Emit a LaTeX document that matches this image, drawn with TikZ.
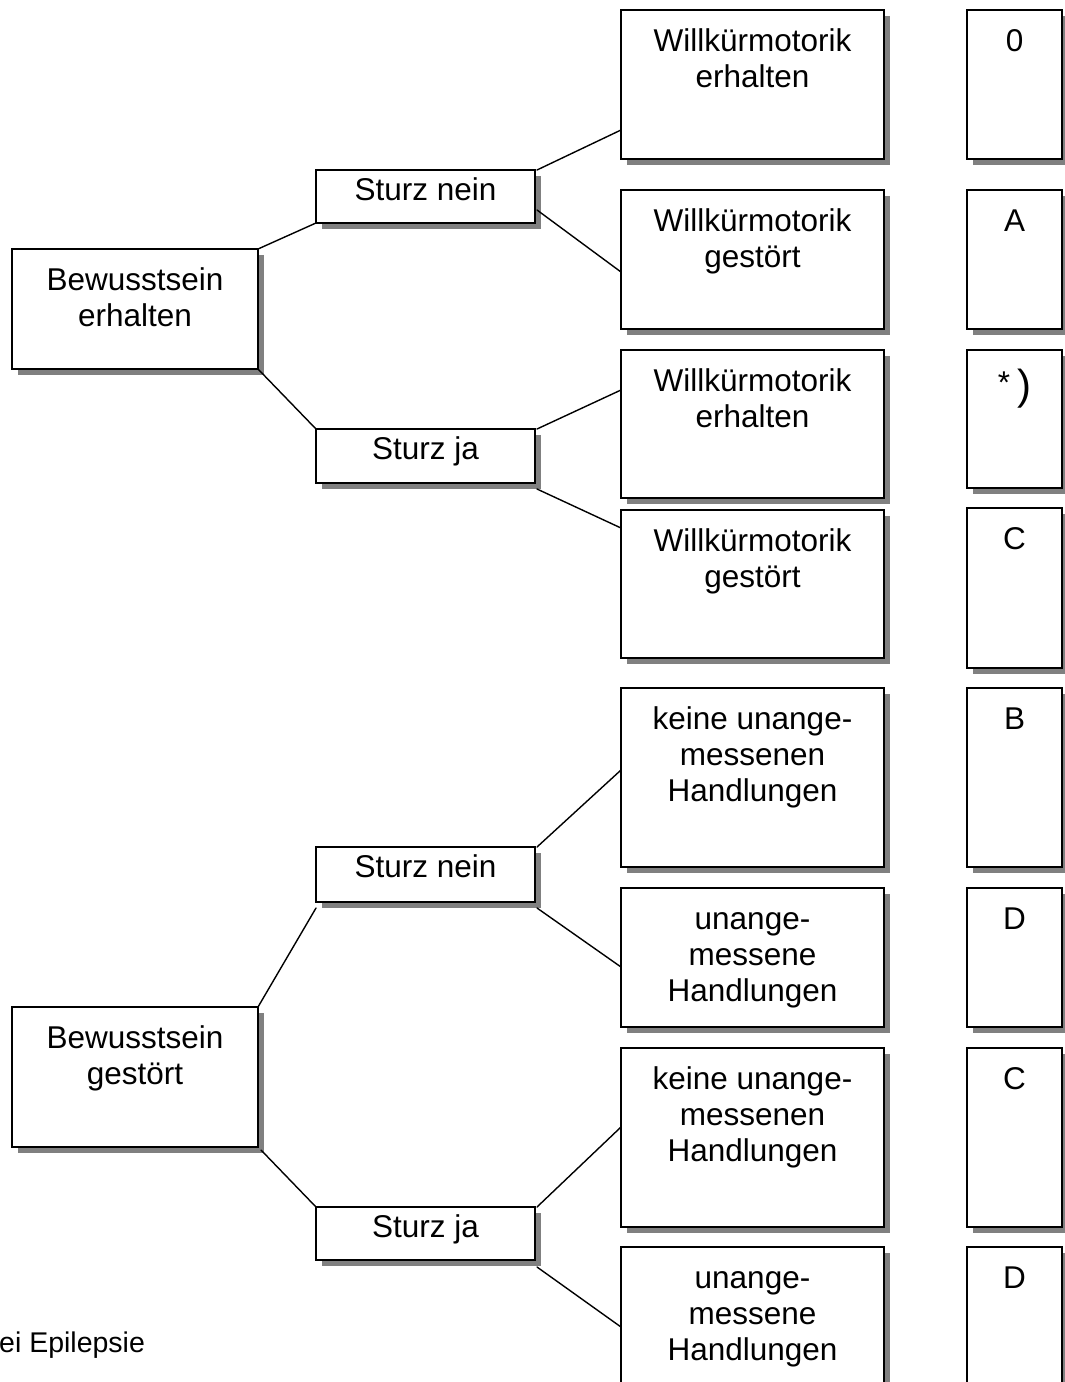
\documentclass[tikz,border=0pt]{standalone}
\usepackage{fontspec}
\setmainfont{Liberation Sans}
\usetikzlibrary{shadows,calc}
\definecolor{shadowgray}{RGB}{128,128,128}
\tikzset{
  box/.style={draw, line width=2pt, fill=white, inner sep=0pt, outer sep=0pt,
    anchor=north west,
    drop shadow={shadow xshift=6pt, shadow yshift=-6pt, fill=shadowgray, opacity=1}},
  txt/.style={font=\fontsize{31.5}{36}\selectfont, align=center, inner sep=0pt, anchor=north},
  tl/.style={label={[txt,yshift=-16.3pt]north:{\strut #1}}},
  sl/.style={label={[txt,yshift=-4.8pt]north:{\strut #1}}},
  wide/.style={box, minimum width=263pt},
  narrow/.style={box, minimum width=95pt},
  sturz/.style={box, minimum width=219pt},
  bew/.style={box, minimum width=246pt},
  conn/.style={line width=1.4pt, line cap=round}
}
\begin{document}
\begin{tikzpicture}[x=1pt,y=-1pt]
\useasboundingbox (0,0) rectangle (1065,1382);
\clip (0,0) rectangle (1065,1382);

% left column
\node[bew, minimum height=120pt, tl={Bewusstsein\\erhalten}] (be) at (12,249) {};
\node[bew, minimum height=140pt, tl={Bewusstsein\\gestört}] (bg) at (12,1007) {};

% middle column
\node[sturz, minimum height=53pt, sl={Sturz nein}] (sn1) at (316,170) {};
\node[sturz, minimum height=54pt, sl={Sturz ja}] (sj1) at (316,429) {};
\node[sturz, minimum height=55pt, sl={Sturz nein}] (sn2) at (316,847) {};
\node[sturz, minimum height=53pt, sl={Sturz ja}] (sj2) at (316,1207) {};

% result column
\node[wide, minimum height=149pt, tl={Willkürmotorik\\erhalten}] (r1) at (621,10) {};
\node[wide, minimum height=139pt, tl={Willkürmotorik\\gestört}] (r2) at (621,190) {};
\node[wide, minimum height=148pt, tl={Willkürmotorik\\erhalten}] (r3) at (621,350) {};
\node[wide, minimum height=148pt, tl={Willkürmotorik\\gestört}] (r4) at (621,510) {};
\node[wide, minimum height=179pt, tl={keine unange-\\messenen\\Handlungen}] (r5) at (621,688) {};
\node[wide, minimum height=139pt, tl={unange-\\messene\\Handlungen}] (r6) at (621,888) {};
\node[wide, minimum height=179pt, tl={keine unange-\\messenen\\Handlungen}] (r7) at (621,1048) {};
\node[wide, minimum height=200pt, tl={unange-\\messene\\Handlungen}] (r8) at (621,1247) {};

% category column
\node[narrow, minimum height=149pt, tl={0}] (c1) at (967,10) {};
\node[narrow, minimum height=139pt, tl={A}] (c2) at (967,190) {};
\node[narrow, minimum height=138pt,
  label={[txt,yshift=-19.3pt]north:{\raisebox{6pt}{*}\hspace{7pt}{\fontsize{42}{36}\selectfont )}}}] (c3) at (967,350) {};
\node[narrow, minimum height=160pt, tl={C}] (c4) at (967,508) {};
\node[narrow, minimum height=179pt, tl={B}] (c5) at (967,688) {};
\node[narrow, minimum height=139pt, tl={D}] (c6) at (967,888) {};
\node[narrow, minimum height=179pt, tl={C}] (c7) at (967,1048) {};
\node[narrow, minimum height=200pt, tl={D}] (c8) at (967,1247) {};

% caption fragment
\node[font=\fontsize{28.5}{34}\selectfont, inner sep=0pt, anchor=base west] (cap) at (-1,1352) {ei Epilepsie};

% connectors
\draw[conn] (be.north east) -- (sn1.south west);
\draw[conn] (be.south east) -- (sj1.north west);
\draw[conn] ($(sn1.north east)+(2,0)$) -- ($(r1.north west)+(0,120)$);
\draw[conn] ($(sn1.south east)+(2,-13)$) -- ($(r2.north west)+(0,82)$);
\draw[conn] ($(sj1.north east)+(2,0)$) -- ($(r3.north west)+(0,40)$);
\draw[conn] ($(sj1.south east)+(2,6)$) -- ($(r4.north west)+(0,18)$);

\draw[conn] (bg.north east) -- ($(sn2.south west)+(0,6)$);
\draw[conn] ($(bg.south east)+(3,3)$) -- (sj2.north west);
\draw[conn] ($(sn2.north east)+(2,0)$) -- ($(r5.north west)+(0,82)$);
\draw[conn] ($(sn2.south east)+(2,6)$) -- ($(r6.north west)+(0,79)$);
\draw[conn] ($(sj2.north east)+(2,0)$) -- ($(r7.north west)+(0,79)$);
\draw[conn] ($(sj2.south east)+(2,7)$) -- ($(r8.north west)+(0,80)$);
\end{tikzpicture}
\end{document}
